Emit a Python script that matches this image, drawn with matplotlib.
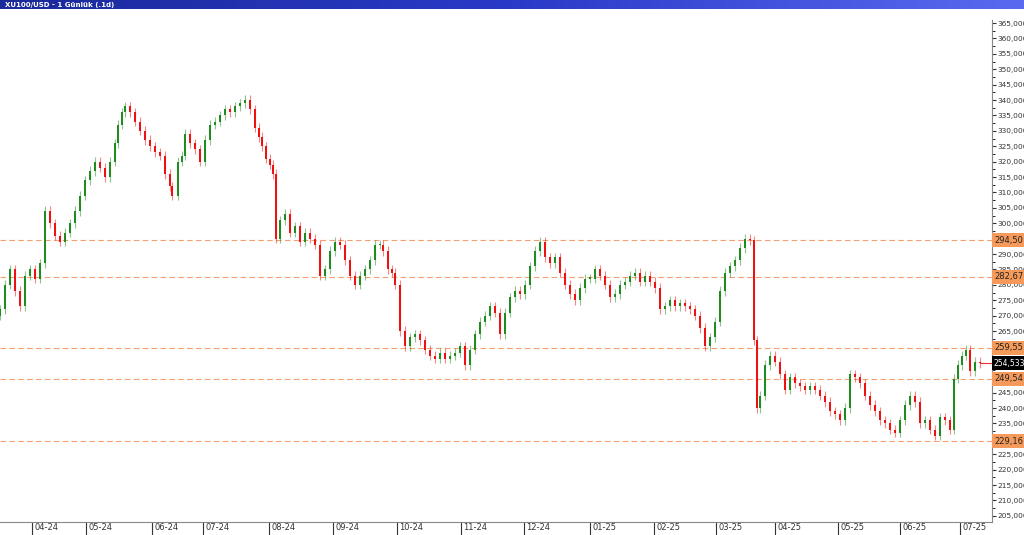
import matplotlib
matplotlib.use("Agg")
import numpy as np
import matplotlib.pyplot as plt
import matplotlib.transforms as mt
from matplotlib.patches import Rectangle

# bar position (approx. trading-time axis) and daily close, in thousands
positions = [0, 5, 10, 15, 20, 25, 30, 35, 40, 45, 50, 55, 60, 65, 70, 75, 80, 85, 90, 95,
             100, 105, 110, 115, 118, 122, 125, 130, 135, 140, 145, 150, 155, 160, 165, 170, 172,
             178, 182, 185, 190, 195, 200, 205, 210, 215, 220, 225, 230, 235, 240, 245, 250,
             255, 259, 262, 266, 270, 273,
             276, 280, 285, 290, 295, 300, 305, 310, 315, 320, 325, 330, 335, 340, 345, 350,
             355, 360, 365, 370, 375, 380, 383, 388, 392, 395, 400, 405, 410, 415, 420, 425,
             430, 435, 440, 445, 450, 455, 460, 465, 470, 475, 480, 485, 490, 495, 500, 505,
             510, 515, 520, 525, 530, 535, 540, 545, 550, 555, 560, 565, 570, 575, 580, 585,
             590, 595, 600, 605, 610, 615, 620, 625, 630, 635, 640, 645, 650, 655, 660, 665,
             670, 675, 680, 685, 690, 695, 700, 705, 710, 715, 720, 725, 730, 735, 740, 745,
             750, 754, 757, 760, 765, 770, 775, 780, 785, 790, 795, 800, 805, 810, 815, 820,
             825, 830, 835, 840, 845, 850, 855, 860, 865, 870, 875, 880, 885, 890, 895, 900,
             905, 910, 915, 920, 925, 930, 935, 940, 945, 950, 954, 958, 962, 966, 970, 975, 980]
closes = [272, 280, 285, 278, 273, 283, 285, 282, 287, 304, 300, 296, 294, 297, 300, 304, 309, 314, 317, 320,
          318, 315, 320, 326, 332, 336, 338, 336, 333, 330, 327, 325, 323, 322, 316, 312, 309,
          320, 322, 329, 326, 324, 320, 327, 332, 333, 335, 337, 336, 338, 339, 340, 337,
          331, 328, 325, 321, 319, 316,
          295, 301, 303, 297, 299, 294, 297, 295, 293, 283, 285, 291, 294, 293, 288, 283,
          280, 283, 285, 288, 293, 293, 291, 285, 284, 280, 265, 260, 263, 264, 262, 259,
          257, 256, 258, 256, 257, 258, 260, 254, 259, 264, 268, 270, 273, 271, 264, 271,
          276, 278, 277, 280, 286, 291, 294, 289, 287, 289, 284, 280, 277, 275, 279, 282,
          282, 285, 283, 280, 276, 277, 280, 281, 283, 284, 281, 283, 281, 279, 272, 273,
          275, 273, 274, 273, 272, 270, 266, 260, 263, 268, 278, 284, 286, 288, 292, 295,
          294.5, 262, 240, 244, 254, 257, 255, 251, 246, 250, 248, 247, 246, 247, 246, 244,
          242, 239, 238, 236, 240, 251, 250, 248, 244, 241, 239, 236, 235, 233, 232, 236,
          241, 244, 242, 235, 236, 233, 231, 237, 236, 233, 249.5, 254, 257, 259, 252, 255, 254.533]

month_ticks = [32, 86, 152, 203, 269, 333, 397, 461, 524, 590, 654, 716, 775, 838, 900, 960]
month_labels = ["04-24", "05-24", "06-24", "07-24", "08-24", "09-24", "10-24", "11-24",
                "12-24", "01-25", "02-25", "03-25", "04-25", "05-25", "06-25", "07-25"]

levels = [294.50, 282.67, 259.55, 249.54, 229.16]
level_labels = ["294,50", "282,67", "259,55", "249,54", "229,16"]
last_price = 254.533

up_col = "#1e8c1e"
down_col = "#ee1111"

fig = plt.figure(figsize=(10.24, 5.35), dpi=100)
ax = fig.add_axes([0, 13 / 535, 992 / 1024, 502 / 535])
ax.set_xlim(0, 992)
ax.set_ylim(203.0, 366.0)

prev = closes[0] - 2
for x, c in zip(positions, closes):
    o = prev
    top, bot = max(o, c), min(o, c)
    col = up_col if c >= o else down_col
    ax.vlines(x, bot - 1.5, top + 1.5, color=col, lw=0.8, alpha=0.5, zorder=2)
    ax.add_patch(Rectangle((x - 1.4, bot), 2.8, max(top - bot, 0.4),
                           color=col, lw=0, zorder=3))
    prev = c

for lv in levels:
    ax.axhline(lv, color="#f5a070", lw=0.8, ls=(0, (5, 3)), zorder=1)
ax.plot([positions[-1], 992], [last_price, last_price], color="#ee3333", lw=0.8)

ax.set_xticks(month_ticks)
ax.set_xticklabels(month_labels)
ax.tick_params(axis="x", direction="out", length=10, pad=-9, labelsize=6, colors="#333333")
offset = mt.ScaledTranslation(1.5 / 72, 0, fig.dpi_scale_trans)
for lbl in ax.get_xticklabels():
    lbl.set_horizontalalignment("left")
    lbl.set_verticalalignment("top")
    lbl.set_transform(lbl.get_transform() + offset)

ax.yaxis.tick_right()
yt = list(range(205, 366, 5))
ax.set_yticks(yt)
ax.set_yticklabels([f"{v},0000" for v in yt])
ax.tick_params(axis="y", labelsize=5.3, length=3, pad=1, colors="#333333")
ax.set_yticks([v + 2.5 for v in range(205, 365, 5)], minor=True)
ax.tick_params(axis="y", which="minor", length=2)
for s in ["top", "left"]:
    ax.spines[s].set_visible(False)
ax.spines["right"].set_color("#888888")
ax.spines["bottom"].set_color("#888888")

for lv, txt in zip(levels, level_labels):
    ax.text(1.0 + 2 / 992, lv, txt, transform=ax.get_yaxis_transform(), fontsize=6,
            va="center", ha="left", color="#222222", zorder=5,
            bbox=dict(boxstyle="square,pad=0.3", fc="#f59a5a", ec="none"))
ax.text(1.0 + 2 / 992, last_price, "254,533", transform=ax.get_yaxis_transform(), fontsize=5.5,
        va="center", ha="left", color="white", zorder=5,
        bbox=dict(boxstyle="square,pad=0.3", fc="black", ec="none"))

# window title bar
bar = fig.add_axes([0, 1 - 9 / 535, 1, 9 / 535])
grad = np.linspace(0, 1, 256).reshape(1, -1)
bar.imshow(grad, cmap=matplotlib.colors.LinearSegmentedColormap.from_list(
    "t", ["#1a2a9a", "#2a3ac8", "#5a6af0"]), aspect="auto", extent=(0, 1, 0, 1))
bar.set_axis_off()
bar.text(0.005, 0.5, "XU100/USD - 1 Günlük (.1d)", color="white", fontsize=5,
         fontweight="bold", va="center")

fig.savefig("out.png", dpi=100)
